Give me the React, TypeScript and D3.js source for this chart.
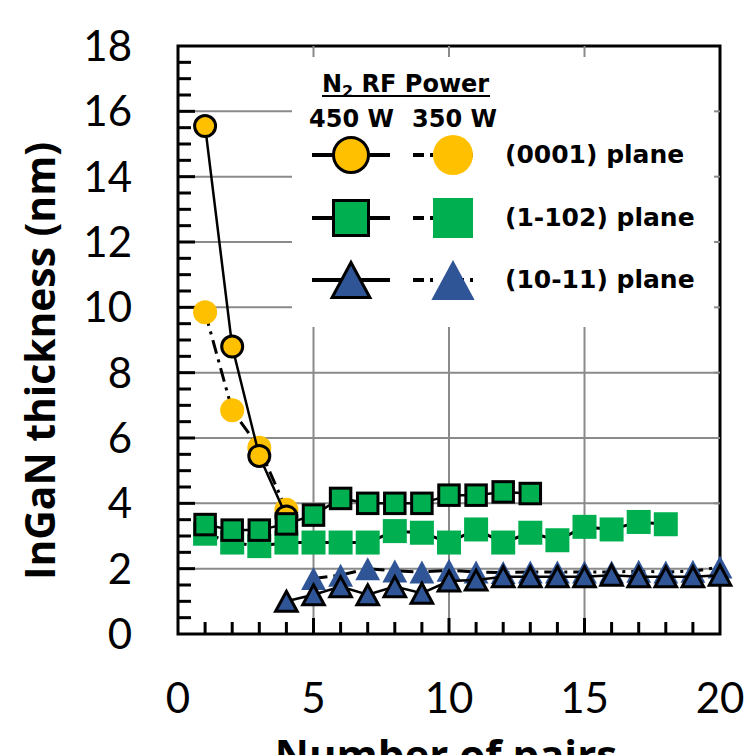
import React, { useRef, useEffect } from 'react';
import * as d3 from 'd3';

const W = 748;
const H = 755;

// (0001) plane
const pairsC450 = [1, 2, 3, 4];
const thickC450 = [15.55, 8.8, 5.45, 3.6];
const pairsC350 = [1, 2, 3, 4];
const thickC350 = [9.85, 6.85, 5.7, 3.8];

// (1-102) plane
const pairsR450 = [1, 2, 3, 4, 5, 6, 7, 8, 9, 10, 11, 12, 13];
const thickR450 = [3.35, 3.18, 3.18, 3.37, 3.64, 4.15, 4.0, 4.0, 4.0, 4.25, 4.25, 4.35, 4.3];
const pairsR350 = [1, 2, 3, 4, 5, 6, 7, 8, 9, 10, 11, 12, 13, 14, 15, 16, 17, 18];
const thickR350 = [3.07, 2.8, 2.69, 2.8, 2.8, 2.8, 2.8, 3.15, 3.1, 2.8, 3.2, 2.8, 3.1, 2.87, 3.28, 3.2, 3.43, 3.36];

// (10-11) plane
const pairsS450 = [4, 5, 6, 7, 8, 9, 10, 11, 12, 13, 14, 15, 16, 17, 18, 19, 20];
const thickS450 = [1.0, 1.2, 1.45, 1.2, 1.45, 1.25, 1.62, 1.65, 1.75, 1.75, 1.75, 1.75, 1.8, 1.75, 1.75, 1.75, 1.8];
const pairsS350 = [5, 6, 7, 8, 9, 10, 11, 12, 13, 14, 15, 16, 17, 18, 19, 20];
const thickS350 = [1.7, 1.8, 2.0, 1.93, 1.9, 1.95, 1.9, 1.88, 1.9, 1.9, 1.9, 1.9, 1.92, 1.9, 1.92, 2.05];

const yTicks = [0, 2, 4, 6, 8, 10, 12, 14, 16, 18];
const xTicks = [0, 5, 10, 15, 20];
const planeLabels = ['(0001) plane', '(1-102) plane', '(10-11) plane'];
const powerLabels = ['450 W', '350 W'];

const YELLOW = '#FFC000';
const GREEN = '#00B050';
const BLUE = '#2F5597';
const DASH = '14,6,3,6';

function drawMarker(g, shape, size, fill, outlined) {
  let m;
  if (shape === 'circle') {
    m = g.append('circle').attr('r', size / 2);
  } else if (shape === 'square') {
    m = g.append('rect').attr('x', -size / 2).attr('y', -size / 2).attr('width', size).attr('height', size);
  } else {
    const w = size * 1.08;
    const h = size;
    m = g.append('path').attr('d', `M0,${-h / 2}L${w / 2},${h / 2}L${-w / 2},${h / 2}Z`);
  }
  m.attr('fill', fill);
  if (outlined) m.attr('stroke', '#000').attr('stroke-width', 3).attr('stroke-linejoin', 'miter');
  return m;
}

function App() {
  const ref = useRef(null);

  useEffect(() => {
    const svg = d3.select(ref.current);
    svg.selectAll('*').remove();

    const x = d3.scaleLinear().domain([0, 20]).range([178, 720]);
    const y = d3.scaleLinear().domain([0, 18]).range([634, 46]);
    const [x0, x1] = x.range();
    const [y0, y1] = y.range();

    // gridlines
    svg.append('g').selectAll('line')
      .data(yTicks.filter((d) => d > 0 && d < 18)).join('line')
      .attr('x1', x0).attr('x2', x1)
      .attr('y1', (d) => y(d)).attr('y2', (d) => y(d))
      .attr('stroke', '#8a8a8a').attr('stroke-width', 2);
    svg.append('g').selectAll('line')
      .data(xTicks.filter((d) => d > 0 && d < 20)).join('line')
      .attr('x1', (d) => x(d)).attr('x2', (d) => x(d))
      .attr('y1', y0).attr('y2', y1)
      .attr('stroke', '#8a8a8a').attr('stroke-width', 2);

    // legend background hides grid
    svg.append('rect')
      .attr('x', 292).attr('y', y1 + 2).attr('width', x1 - 292 - 2).attr('height', 327 - y1 - 2)
      .attr('fill', '#fff');

    // frame
    svg.append('rect')
      .attr('x', x0).attr('y', y1).attr('width', x1 - x0).attr('height', y0 - y1)
      .attr('fill', 'none').attr('stroke', '#000').attr('stroke-width', 3);

    // left ticks (inward), minor each 0.5, major each 2
    const leftTicks = d3.range(0.5, 18, 0.5);
    svg.append('g').selectAll('line').data(leftTicks).join('line')
      .attr('x1', x0).attr('x2', (d) => x0 + (d % 2 === 0 ? 17 : 13))
      .attr('y1', (d) => y(d)).attr('y2', (d) => y(d))
      .attr('stroke', '#000').attr('stroke-width', 3);
    // bottom ticks, minor each 1, major each 5
    svg.append('g').selectAll('line').data(d3.range(1, 20, 1)).join('line')
      .attr('x1', (d) => x(d)).attr('x2', (d) => x(d))
      .attr('y1', y0).attr('y2', (d) => y0 - (d % 5 === 0 ? 16 : 12))
      .attr('stroke', '#000').attr('stroke-width', 3);
    // top ticks
    svg.append('g').selectAll('line').data([5, 10, 15]).join('line')
      .attr('x1', (d) => x(d)).attr('x2', (d) => x(d))
      .attr('y1', y1).attr('y2', y1 + 11)
      .attr('stroke', '#8a8a8a').attr('stroke-width', 2);
    // right ticks
    svg.append('g').selectAll('line').data([2, 4, 6, 8, 10, 12, 14, 16]).join('line')
      .attr('x1', x1).attr('x2', x1 - 6)
      .attr('y1', (d) => y(d)).attr('y2', (d) => y(d))
      .attr('stroke', '#8a8a8a').attr('stroke-width', 2);

    // tick labels
    svg.append('g').selectAll('text').data(yTicks).join('text')
      .attr('x', 132).attr('y', (d) => y(d) + 15)
      .attr('text-anchor', 'end')
      .attr('font-family', 'Lato, sans-serif').attr('font-size', 42)
      .text((d) => d);
    svg.append('g').selectAll('text').data(xTicks).join('text')
      .attr('x', (d) => x(d)).attr('y', 713)
      .attr('text-anchor', 'middle')
      .attr('font-family', 'Lato, sans-serif').attr('font-size', 42)
      .text((d) => d);

    // axis titles
    svg.append('text')
      .attr('transform', 'translate(55,361) rotate(-90)')
      .attr('text-anchor', 'middle')
      .attr('font-family', '"Open Sans", sans-serif').attr('font-weight', 'bold').attr('font-size', 42)
      .attr('textLength', 438).attr('lengthAdjust', 'spacingAndGlyphs')
      .text('InGaN thickness (nm)');
    svg.append('text')
      .attr('x', 446).attr('y', 770)
      .attr('text-anchor', 'middle')
      .attr('font-family', '"Open Sans", sans-serif').attr('font-weight', 'bold').attr('font-size', 42)
      .text('Number of pairs');

    // series
    const line = d3.line().x((d) => x(d[0])).y((d) => y(d[1]));
    const series = [
      { xs: pairsC350, ys: thickC350, shape: 'circle', fill: YELLOW, outlined: false, size: 24 },
      { xs: pairsC450, ys: thickC450, shape: 'circle', fill: YELLOW, outlined: true, size: 21 },
      { xs: pairsR350, ys: thickR350, shape: 'square', fill: GREEN, outlined: false, size: 24 },
      { xs: pairsR450, ys: thickR450, shape: 'square', fill: GREEN, outlined: true, size: 20.5 },
      { xs: pairsS350, ys: thickS350, shape: 'triangle', fill: BLUE, outlined: false, size: 23 },
      { xs: pairsS450, ys: thickS450, shape: 'triangle', fill: BLUE, outlined: true, size: 20 },
    ];
    series.forEach((s) => {
      const pts = s.xs.map((v, i) => [v, s.ys[i]]);
      const g = svg.append('g');
      g.append('path')
        .attr('d', line(pts))
        .attr('fill', 'none').attr('stroke', '#000')
        .attr('stroke-width', s.outlined ? 2.5 : 3)
        .attr('stroke-dasharray', s.outlined ? null : DASH);
      pts.forEach((p) => {
        const mg = g.append('g').attr('transform', `translate(${x(p[0])},${y(p[1])})`);
        drawMarker(mg, s.shape, s.size, s.fill, s.outlined);
      });
    });

    // legend
    const lg = svg.append('g')
      .attr('font-family', '"DejaVu Sans", Verdana, sans-serif')
      .attr('font-weight', 'bold').attr('font-size', 24).attr('fill', '#000');
    const title = lg.append('text').attr('x', 322).attr('y', 92);
    title.append('tspan').text('N');
    title.append('tspan').attr('font-size', 16).attr('dy', 5).text('2');
    title.append('tspan').attr('dy', -5).text(' RF Power');
    lg.append('line').attr('x1', 322).attr('x2', 490).attr('y1', 96).attr('y2', 96)
      .attr('stroke', '#000').attr('stroke-width', 2);
    lg.append('text').attr('x', 309).attr('y', 127).text(powerLabels[0]);
    lg.append('text').attr('x', 412).attr('y', 127).text(powerLabels[1]);

    const rows = [
      { cy: 155, shape: 'circle', fill: YELLOW },
      { cy: 218, shape: 'square', fill: GREEN },
      { cy: 280, shape: 'triangle', fill: BLUE },
    ];
    rows.forEach((r, i) => {
      lg.append('line').attr('x1', 312).attr('x2', 390).attr('y1', r.cy).attr('y2', r.cy)
        .attr('stroke', '#000').attr('stroke-width', 4);
      lg.append('line').attr('x1', 413).attr('x2', 492).attr('y1', r.cy).attr('y2', r.cy)
        .attr('stroke', '#000').attr('stroke-width', 4).attr('stroke-dasharray', '11,6,3,20');
      const m1 = lg.append('g').attr('transform', `translate(351,${r.cy})`);
      drawMarker(m1, r.shape, 35, r.fill, true);
      const m2 = lg.append('g').attr('transform', `translate(453,${r.cy})`);
      drawMarker(m2, r.shape, 40, r.fill, false);
      lg.append('text').attr('x', 505).attr('y', r.cy + 8).attr('font-size', 25).text(planeLabels[i]);
    });
  }, []);

  return (
    <svg ref={ref} width={W} height={H}
      style={{ position: 'absolute', left: 0, top: 0, background: '#fff' }} />
  );
}

export default App;
